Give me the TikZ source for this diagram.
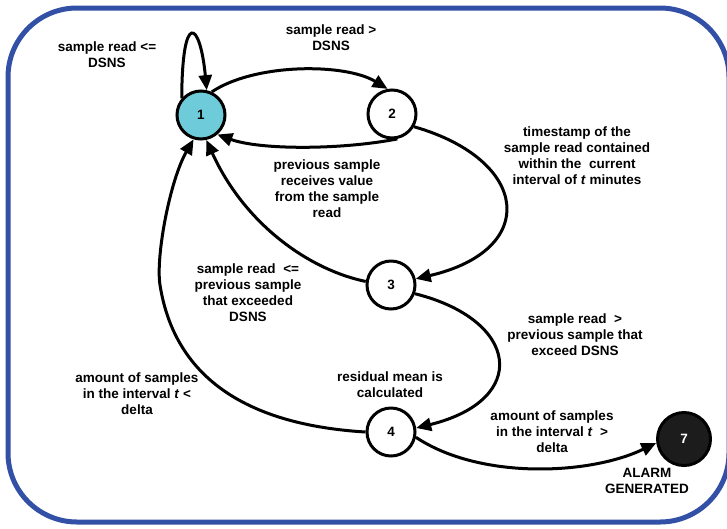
\documentclass[tikz,border=0pt]{standalone}
\usepackage{fontspec}
\setmainfont{Liberation Sans}
\usetikzlibrary{arrows.meta}
\definecolor{frameblue}{RGB}{50,80,165}
\definecolor{statecyan}{RGB}{110,203,217}
\definecolor{statedark}{RGB}{28,28,28}
\tikzset{
  state/.style={circle, draw=black, line width=3pt, minimum size=48pt, inner sep=0pt, fill=white, font=\fontsize{13.5}{16}\selectfont\bfseries},
  edge/.style={line width=3pt, -{Triangle[length=15pt,width=13pt]}},
  lbl/.style={align=center, inner sep=0pt, font=\fontsize{13.5}{16}\selectfont\bfseries}
}
\newcommand{\tv}{\textit{t}}
\begin{document}
\begin{tikzpicture}[x=1pt,y=-1pt]
\useasboundingbox (0,0) rectangle (727,528);
\clip (0,0) rectangle (727,528);
\draw[frameblue, line width=5pt, rounded corners=69pt] (8,8) rectangle (729,522);

\node[state, fill=statecyan] (n1) at (201,115) {1};
\node[state] (n2) at (392,114) {2};
\node[state] (n3) at (391,285) {3};
\node[state] (n4) at (391,432) {4};
\node[state, fill=statedark, text=white, minimum size=53pt] (n7) at (684,439) {7};

% self loop on 1
\draw[edge] (n1.139) .. controls (182,10) and (200,20) .. (n1.77);
% 1 -> 2
\draw[edge] (n1.65) .. controls (255,63) and (345,63) .. (n2.100);
% 2 -> 1
\draw[edge] (n2.-78) .. controls (340,150) and (260,150) .. (n1.-50);
% 2 -> 3
\draw[edge] (n2.-30) .. controls (530,160) and (540,250) .. (n3.14);
% 3 -> 1
\draw[edge] (n3.172) .. controls (310,270) and (245,225) .. (n1.-78);
% 3 -> 4
\draw[edge] (n3.-20) .. controls (520,320) and (530,400) .. (n4.9);
% 4 -> 1
\draw[edge] (n4.180) .. controls (250,425) and (175,380) .. (160,285)
  .. controls (155.5,256.5) and (170,180) .. (n1.-107);
% 4 -> 7
\draw[edge] (n4.-12) .. controls (480,480) and (590,475) .. (n7.188);

\node[lbl] (l11) at (107,55) {sample read <=\\DSNS};
\node[lbl] (l12) at (331,38) {sample read >\\DSNS};
\node[lbl] (l21) at (327,189) {previous sample\\receives value\\from the sample\\read};
\node[lbl] (l23) at (577,156) {timestamp of the\\sample read contained\\within the\ \ current\\interval of \tv{} minutes};
\node[lbl] (l31) at (248,293) {sample read\ \ <=\\previous sample\\that exceeded\\DSNS};
\node[lbl] (l34) at (575,335) {sample read\ \ >\\previous sample that\\exceed DSNS};
\node[lbl] (l43) at (390,385) {residual mean is\\calculated};
\node[lbl] (l41) at (137,394) {amount of samples\\in the interval \tv{} <\\delta};
\node[lbl] (l47) at (552,432) {amount of samples\\in the interval \tv{}\ \ >\\delta};
\node[lbl] (l7) at (647,481) {ALARM\\GENERATED};
\end{tikzpicture}
\end{document}
